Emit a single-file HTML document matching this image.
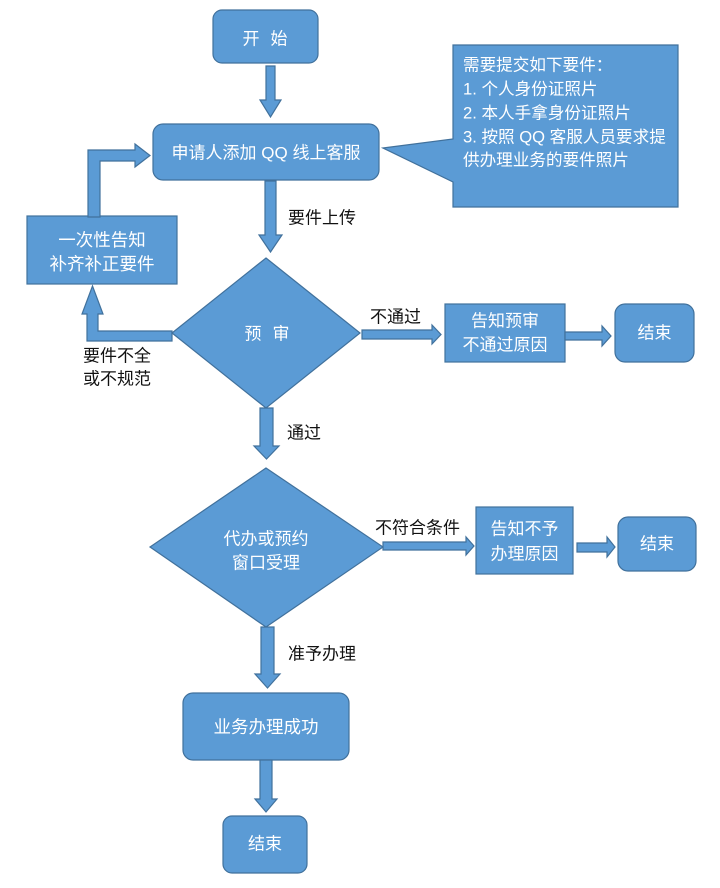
<!DOCTYPE html>
<html>
<head>
<meta charset="utf-8">
<style>
html,body{margin:0;padding:0;background:#fff;}
svg{display:block;}
text{font-family:"Liberation Sans","Noto Sans CJK SC",sans-serif;font-size:17px;}
.w{fill:#ffffff;}
.b{fill:#111;}
.s{fill:#5b9bd5;stroke:#41719c;stroke-width:1.2;}
</style>
</head>
<body>
<svg width="720" height="888" viewBox="0 0 720 888" xmlns="http://www.w3.org/2000/svg">
<!-- Start -->
<rect class="s" x="213" y="10" width="105" height="53" rx="9"/>
<text class="w" x="251" y="39" text-anchor="middle" dominant-baseline="central">开</text>
<text class="w" x="279" y="39" text-anchor="middle" dominant-baseline="central">始</text>

<!-- arrow start->apply -->
<polygon class="s" points="266,66 275,66 275,100 281,100 270.5,117 260,100 266,100"/>

<!-- Apply box -->
<rect class="s" x="153" y="124" width="226" height="56" rx="10"/>
<text class="w" x="266" y="153" text-anchor="middle" dominant-baseline="central">申请人添加 QQ 线上客服</text>

<!-- Callout -->
<path class="s" d="M453,45 H678 V207 H453 V182 L383,148 L453,139 Z"/>
<text class="w" x="463" y="65" dominant-baseline="central" style="font-size:16.6px">需要提交如下要件：</text>
<text class="w" x="463" y="89" dominant-baseline="central" style="font-size:16.6px">1. 个人身份证照片</text>
<text class="w" x="463" y="113" dominant-baseline="central" style="font-size:16.6px">2. 本人手拿身份证照片</text>
<text class="w" x="463" y="137" dominant-baseline="central" style="font-size:16.6px">3. 按照 QQ 客服人员要求提</text>
<text class="w" x="463" y="160" dominant-baseline="central" style="font-size:16.6px">供办理业务的要件照片</text>

<!-- arrow apply->diamond1 -->
<polygon class="s" points="265,181 276,181 276,235 282,235 270.5,252 259,235 265,235"/>
<text class="b" x="288" y="218" dominant-baseline="central">要件上传</text>

<!-- Left box -->
<rect class="s" x="27" y="216" width="150" height="68"/>
<text class="w" x="102" y="240" text-anchor="middle" dominant-baseline="central" style="font-size:17.5px">一次性告知</text>
<text class="w" x="102" y="264" text-anchor="middle" dominant-baseline="central" style="font-size:17.5px">补齐补正要件</text>

<!-- loop arrow up to apply -->
<polygon class="s" points="88,217 88,150 135,150 135,144 150,155.5 135,167 135,161 100,161 100,217"/>

<!-- loop arrow from diamond1 left to left box -->
<polygon class="s" points="172,331 98,331 98,314 103,314 92.5,286 82,314 87,314 87,341 172,341"/>
<text class="b" x="83" y="356" dominant-baseline="central">要件不全</text>
<text class="b" x="83" y="379" dominant-baseline="central">或不规范</text>

<!-- Diamond 1 -->
<polygon class="s" points="266,258 360,333 266,408 172,333"/>
<text class="w" x="253" y="334" text-anchor="middle" dominant-baseline="central">预</text>
<text class="w" x="281" y="334" text-anchor="middle" dominant-baseline="central">审</text>

<!-- arrow diamond1 -> reject box -->
<polygon class="s" points="362,330 432,330 432,325 441,334.5 432,344 432,339 362,339"/>
<text class="b" x="370" y="317" dominant-baseline="central">不通过</text>

<!-- reject box -->
<rect class="s" x="445" y="304" width="120" height="58"/>
<text class="w" x="505" y="321" text-anchor="middle" dominant-baseline="central">告知预审</text>
<text class="w" x="505" y="345" text-anchor="middle" dominant-baseline="central">不通过原因</text>

<!-- arrow -> end -->
<polygon class="s" points="565,332 602,332 602,326 611,336 602,346 602,340 565,340"/>
<rect class="s" x="615" y="304" width="79" height="58" rx="10"/>
<text class="w" x="654.5" y="333" text-anchor="middle" dominant-baseline="central">结束</text>

<!-- arrow diamond1 -> diamond2 -->
<polygon class="s" points="260,408 273,408 273,446 279,446 266.5,459 254,446 260,446"/>
<text class="b" x="287" y="433" dominant-baseline="central">通过</text>

<!-- Diamond 2 -->
<polygon class="s" points="266,468 383,547 266,627 150,547"/>
<text class="w" x="266" y="539" text-anchor="middle" dominant-baseline="central">代办或预约</text>
<text class="w" x="266" y="563" text-anchor="middle" dominant-baseline="central">窗口受理</text>

<!-- arrow diamond2 -> deny box -->
<polygon class="s" points="383,542 466,542 466,537 474,546 466,555 466,550 383,550"/>
<text class="b" x="375" y="528" dominant-baseline="central">不符合条件</text>

<rect class="s" x="476" y="507" width="97" height="67"/>
<text class="w" x="524.5" y="529" text-anchor="middle" dominant-baseline="central">告知不予</text>
<text class="w" x="524.5" y="554" text-anchor="middle" dominant-baseline="central">办理原因</text>

<polygon class="s" points="577,543 607,543 607,537 615,547 607,557 607,552 577,552"/>
<rect class="s" x="618" y="517" width="78" height="54" rx="10"/>
<text class="w" x="657" y="544" text-anchor="middle" dominant-baseline="central">结束</text>

<!-- arrow diamond2 -> success -->
<polygon class="s" points="261,627 274,627 274,674 280,674 267.5,688 255,674 261,674"/>
<text class="b" x="288" y="654" dominant-baseline="central">准予办理</text>

<!-- success box -->
<rect class="s" x="183" y="693" width="166" height="67" rx="10"/>
<text class="w" x="266" y="727" text-anchor="middle" dominant-baseline="central" style="font-size:17.5px">业务办理成功</text>

<!-- arrow success -> end -->
<polygon class="s" points="260,760 272,760 272,799 277,799 266,812 255,799 260,799"/>
<rect class="s" x="223" y="816" width="84" height="57" rx="9"/>
<text class="w" x="265" y="844" text-anchor="middle" dominant-baseline="central">结束</text>
</svg>
</body>
</html>
